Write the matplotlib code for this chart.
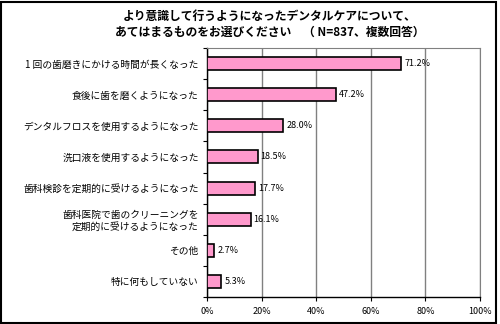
import matplotlib
matplotlib.use("Agg")
import matplotlib.pyplot as plt
from matplotlib.patches import Rectangle

plt.rcParams['font.family'] = ['Noto Sans CJK JP', 'DejaVu Sans']

categories = [
    "1 回の歯磨きにかける時間が長くなった",
    "食後に歯を磨くようになった",
    "デンタルフロスを使用するようになった",
    "洗口液を使用するようになった",
    "歯科検診を定期的に受けるようになった",
    "歯科医院で歯のクリーニングを\n定期的に受けるようになった",
    "その他",
    "特に何もしていない",
]
values = [71.2, 47.2, 28.0, 18.5, 17.7, 16.1, 2.7, 5.3]
xticks = [0, 20, 40, 60, 80, 100]
xtick_labels = ["0%", "20%", "40%", "60%", "80%", "100%"]
title = "より意識して行うようになったデンタルケアについて、\nあてはまるものをお選びください　（ N=837、複数回答）"

fig = plt.figure(figsize=(5, 3.24), dpi=100)
ax = fig.add_axes([207/500, 1-297/324, 273/500, 249/324])

ypos = list(range(len(categories)))
ax.barh(ypos, values, height=0.42, color="#FF99CC", edgecolor="black", linewidth=1.2, zorder=3)
for y, v in zip(ypos, values):
    ax.annotate(f"{v:.1f}%", xy=(v, y), xytext=(2, 0), textcoords="offset points",
                va="center", ha="left", fontsize=6.5)

ax.set_xlim(0, 100)
ax.set_ylim(len(categories) - 0.5, -0.5)
ax.set_xticks(xticks)
ax.set_xticklabels(xtick_labels, fontsize=6.5)
ax.set_yticks(ypos)
ax.set_yticklabels(categories, fontsize=7)
ax.tick_params(axis='y', which='major', length=0, pad=6)
ax.set_yticks([i + 0.5 for i in range(-1, len(categories))], minor=True)
ax.tick_params(axis='y', which='minor', length=3, width=0.8, direction='out')
ax.tick_params(axis='x', length=3, width=0.8, direction='out', color='black', pad=4)
ax.xaxis.grid(True, color="#808080", linewidth=1.0, zorder=0)
ax.set_axisbelow(True)
ax.spines['left'].set_color('black')
ax.spines['bottom'].set_color('black')
ax.spines['left'].set_linewidth(1.0)
ax.spines['bottom'].set_linewidth(1.0)
ax.spines['top'].set_color('#808080')
ax.spines['right'].set_color('#808080')

fig.text(270/500, 1-24/324, title, ha='center', va='center', fontsize=8.5,
         fontweight='bold', linespacing=1.3)

fig.patches.append(Rectangle((0.002, 0.004), 0.99, 0.99, transform=fig.transFigure,
                             fill=False, edgecolor='black', linewidth=1.5))

fig.savefig("out.png", dpi=100)
